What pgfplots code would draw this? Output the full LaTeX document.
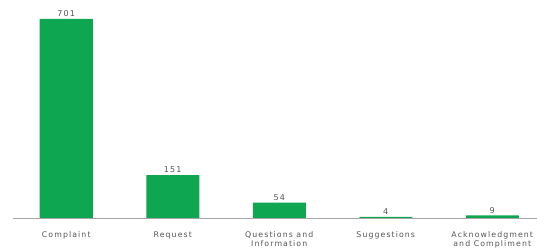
\documentclass[border=0pt]{standalone}
\usepackage{pgfplots}
\pgfplotsset{compat=1.18}
\usepackage{fontspec}
\setmainfont{DejaVu Sans}
\newfontfamily\lblfont[LetterSpace=14]{DejaVu Sans}
\definecolor{barg}{RGB}{14,166,80}
\definecolor{txt}{RGB}{85,85,85}
\begin{document}
\begin{tikzpicture}
\useasboundingbox (0,0) rectangle (537pt,251pt);
\begin{axis}[
  at={(13pt,33pt)}, anchor=south west,
  scale only axis, width=532.5pt, height=220pt,
  xmin=-0.5, xmax=4.5, ymin=0, ymax=775,
  axis x line*=bottom, axis y line=none,
  x axis line style={draw=black!35, line width=0.9pt, -},
  xtick={0,1,2,3,4}, major tick length=0pt,
  xticklabels={Complaint,Request,{Questions and\\Information},Suggestions,{Acknowledgment\\and Compliment}},
  xticklabel style={align=center, font=\lblfont\fontsize{7.8}{9}\selectfont, text=txt, yshift=-10pt},
  ybar, bar width=53pt,
  nodes near coords,
  nodes near coords style={font=\lblfont\fontsize{8}{9}\selectfont, text=txt, /pgf/number format/assume math mode=true, yshift=-1.5pt},
  clip=false,
]
\addplot[fill=barg, draw=none] coordinates {(0,701) (1,151) (2,54) (3,4) (4,9)};
\end{axis}
\end{tikzpicture}
\end{document}
